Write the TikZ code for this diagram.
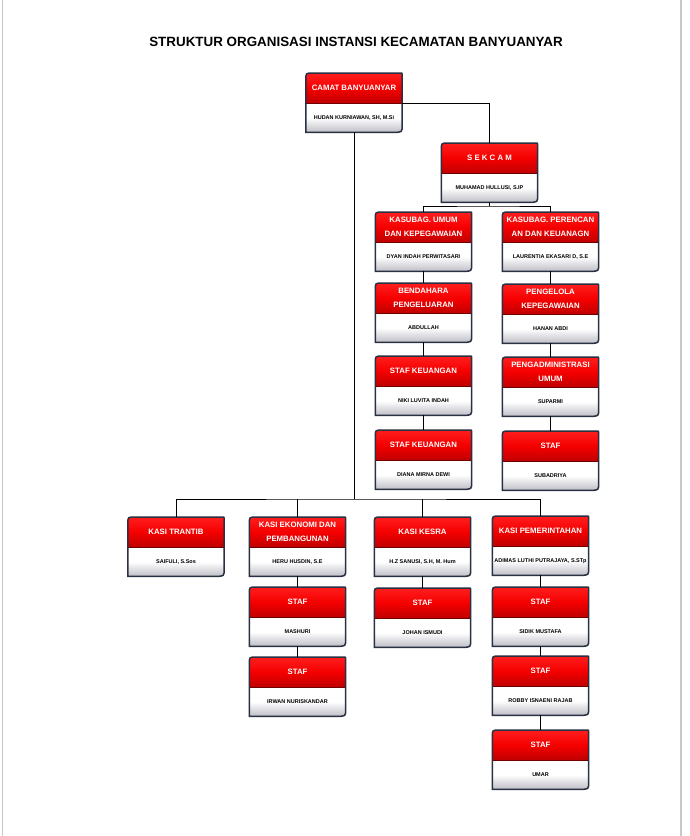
\documentclass[tikz,border=0pt]{standalone}
\usepackage{fontspec}
\setmainfont{Liberation Sans}
\usetikzlibrary{positioning, backgrounds}
\definecolor{bingkai}{RGB}{40,48,66}
\definecolor{merahatas}{RGB}{255,30,30}
\definecolor{merah}{RGB}{245,0,0}
\definecolor{merahbawah}{RGB}{190,0,0}
\definecolor{abu}{RGB}{190,190,198}
\definecolor{pinggir}{RGB}{200,200,200}
\tikzset{
  judul/.style={font=\fontsize{13.4}{16}\selectfont\bfseries},
  kepala/.style={minimum width=96pt, minimum height=30pt, inner sep=0pt, align=center,
    text=white, font=\fontsize{7.8}{14}\selectfont\bfseries},
  isi/.style={minimum width=96pt, minimum height=28.5pt, inner sep=0pt,
    font=\fontsize{5.5}{6}\selectfont\bfseries},
  tepi/.style={draw=bingkai, line width=1.5pt},
  garis/.style={line width=.8pt},
  bayang/.style={fill=black, opacity=.2},
}
% outline of one box: round top-left and bottom-right
\newcommand{\bentuk}[1]{([yshift=-7pt]#1.north west) .. controls (#1.north west) .. ([xshift=7pt]#1.north west)
  -- ([xshift=-2pt]#1.north east) .. controls (#1.north east) .. ([yshift=-2pt]#1.north east)
  -- ([yshift=8pt]#1-p.south east) .. controls (#1-p.south east) .. ([xshift=-8pt]#1-p.south east)
  -- (#1-p.south west) -- cycle}
\newcommand{\kotak}[5]{%
  \node[kepala, anchor=north] (#1) at (#2,#3) {#4};
  \node[isi, below=0pt of #1] (#1-p) {#5};
  \begin{scope}[on background layer]
    \fill[bayang, xshift=1.5pt, yshift=-1.5pt] \bentuk{#1};
    \begin{scope}
      \clip \bentuk{#1};
      \shade[top color=merahatas, bottom color=merahbawah, middle color=merah] (#1.north west) rectangle (#1.south east);
      \shade[top color=white, bottom color=abu, middle color=white] (#1-p.north west) rectangle (#1-p.south east);
    \end{scope}
    \draw[merahbawah!60!black, line width=.8pt] (#1.south west) -- (#1.south east);
    \draw[tepi] \bentuk{#1};
  \end{scope}
}

\begin{document}
\begin{tikzpicture}[x=1pt, y=-1pt]
  \useasboundingbox (0,0) rectangle (689,836);
  \draw[pinggir, line width=1.2pt] (2.5,0) -- (2.5,836);
  \draw[pinggir, line width=1.2pt] (681,0) -- (681,836);
  \node[judul] (judul) at (356,42) {STRUKTUR ORGANISASI INSTANSI KECAMATAN BANYUANYAR};

  \kotak{camat}{354}{73}{CAMAT BANYUANYAR}{HUDAN KURNIAWAN, SH, M.Si}
  \kotak{sekcam}{489.5}{143}{S E K C A M}{MUHAMAD HULLUSI, S.IP}

  \kotak{umum}{423.5}{212}{KASUBAG. UMUM\\DAN KEPEGAWAIAN}{DYAN INDAH PERWITASARI}
  \kotak{renc}{550.5}{212}{KASUBAG. PERENCAN\\AN DAN KEUANAGN}{LAURENTIA EKASARI D, S.E}
  \kotak{bendahara}{423.5}{283}{BENDAHARA\\PENGELUARAN}{ABDULLAH}
  \kotak{pengelola}{550.5}{284}{PENGELOLA\\KEPEGAWAIAN}{HANAN ABDI}
  \kotak{keua}{423.5}{356}{STAF KEUANGAN}{NIKI LUVITA INDAH}
  \kotak{admin}{550.5}{357}{PENGADMINISTRASI\\UMUM}{SUPARMI}
  \kotak{keub}{423.5}{430}{STAF KEUANGAN}{DIANA MIRNA DEWI}
  \kotak{stafum}{550.5}{431}{STAF}{SUBADRIYA}

  \kotak{trantib}{176}{517}{KASI TRANTIB}{SAIFULI, S.Sos}
  \kotak{ekonomi}{297.5}{517}{KASI EKONOMI DAN\\PEMBANGUNAN}{HERU HUSDIN, S.E}
  \kotak{kesra}{422.5}{517}{KASI KESRA}{H.Z SANUSI, S.H, M. Hum}
  \kotak{pem}{540.5}{516}{KASI PEMERINTAHAN}{ADIMAS LUTHI PUTRAJAYA, S.STp}
  \kotak{ekoa}{297.5}{587}{STAF}{MASHURI}
  \kotak{kesa}{422.5}{588}{STAF}{JOHAN ISMUDI}
  \kotak{pema}{540.5}{587}{STAF}{SIDIK MUSTAFA}
  \kotak{ekob}{297.5}{657}{STAF}{IRWAN NURISKANDAR}
  \kotak{pemb}{540.5}{656}{STAF}{ROBBY ISNAENI RAJAB}
  \kotak{pemc}{540.5}{730}{STAF}{UMAR}

  \coordinate (cabang1) at (489.5,206);
  \coordinate (cabang2) at (354,499);
  \draw[garis] (camat.south east) -| (sekcam.north);
  \draw[garis] (sekcam-p.south) -- (cabang1);
  \draw[garis] (umum.north) |- (cabang1) -| (renc.north);
  \draw[garis] (umum-p.south) -- (bendahara.north);
  \draw[garis] (bendahara-p.south) -- (keua.north);
  \draw[garis] (keua-p.south) -- (keub.north);
  \draw[garis] (renc-p.south) -- (pengelola.north);
  \draw[garis] (pengelola-p.south) -- (admin.north);
  \draw[garis] (admin-p.south) -- (stafum.north);
  \draw[garis] (camat-p.south) -- (cabang2);
  \draw[garis] (trantib.north) |- (cabang2) -| (pem.north);
  \draw[garis] (ekonomi.north) -- (ekonomi.north |- cabang2);
  \draw[garis] (kesra.north) -- (kesra.north |- cabang2);
  \draw[garis] (ekonomi-p.south) -- (ekoa.north);
  \draw[garis] (ekoa-p.south) -- (ekob.north);
  \draw[garis] (kesra-p.south) -- (kesa.north);
  \draw[garis] (pem-p.south) -- (pema.north);
  \draw[garis] (pema-p.south) -- (pemb.north);
  \draw[garis] (pemb-p.south) -- (pemc.north);
\end{tikzpicture}
\end{document}
